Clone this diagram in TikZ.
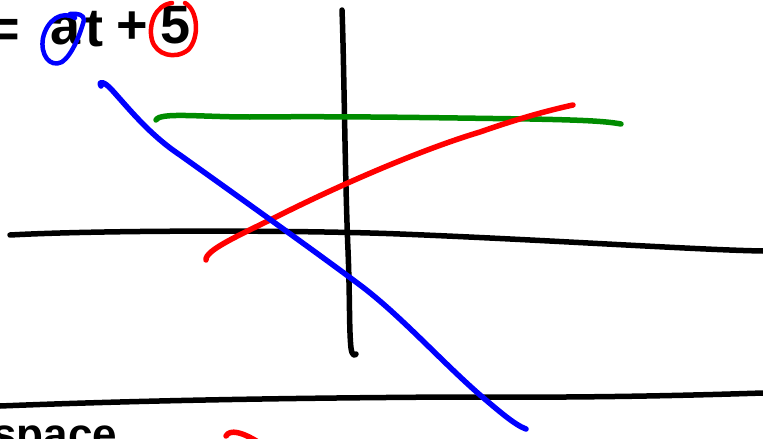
\documentclass[tikz,border=0pt]{standalone}
\usepackage{fontspec}
\setmainfont{Liberation Sans}
\definecolor{penblue}{RGB}{0,0,255}
\definecolor{penred}{RGB}{255,0,0}
\definecolor{pengreen}{RGB}{0,140,0}
\begin{document}
\begin{tikzpicture}[x=1pt,y=-1pt,
  pen/.style={line width=5.5pt,line cap=round,line join=round},
  ink/.style={pen,black},
  hand/.style={font=\fontsize{54}{54}\selectfont\bfseries,inner sep=0pt,anchor=base}]
\useasboundingbox (0,0) rectangle (763,439);
\clip (0,0) rectangle (763,439);
% equation
\node[hand] (eq) at (4,47) {=};
\node[hand] (a) at (66,44) {a};
\node[hand] (t) at (94,46) {t};
\node[hand] (plus) at (132,43) {+};
\node[hand] (five) at (176,43) {5};
\draw[pen,penblue,line width=4.5pt] (75,18) .. controls (62,10) and (47,20) .. (43,38)
  .. controls (40,55) and (50,68) .. (62,62) .. controls (72,55) and (80,35) .. (84,20)
  .. controls (84,15) and (78,13) .. (70,14);
\draw[pen,penred,line width=4.5pt] (172,3) .. controls (155,5) and (148,25) .. (152,40)
  .. controls (156,55) and (175,60) .. (188,50) .. controls (200,38) and (198,10) .. (185,3);
% bottom text fragment
\node[hand,anchor=base west,font=\fontsize{44}{44}\selectfont\bfseries] (bottomtext) at (-8,449) {space};
% black vertical
\draw[ink] (342,10) .. controls (344,60) and (345,180) .. (348,250)
  .. controls (350,300) and (349,330) .. (351,348) .. controls (352,356) and (355,356) .. (356,354);
% middle horizontal
\draw[ink] (10,235) .. controls (100,230) and (300,230) .. (400,234)
  .. controls (550,240) and (700,250) .. (763,251);
% bottom horizontal
\draw[ink] (0,406) .. controls (150,400) and (300,398) .. (450,397)
  .. controls (600,398) and (700,395) .. (763,393);
% green
\draw[pen,pengreen] (156,120) .. controls (160,112) and (200,117) .. (250,117)
  .. controls (350,116) and (450,118) .. (530,119) .. controls (580,120) and (605,121) .. (621,124);
% red
\draw[pen,penred] (206,260) .. controls (205,250) and (240,235) .. (280,215)
  .. controls (340,185) and (420,150) .. (480,132) .. controls (520,118) and (550,110) .. (573,105);
% blue
\draw[pen,penblue] (101,86) .. controls (98,80) and (105,82) .. (112,90)
  .. controls (130,110) and (150,135) .. (180,155) .. controls (250,205) and (320,255) .. (360,285)
  .. controls (400,315) and (440,360) .. (480,395) .. controls (500,412) and (515,425) .. (526,429);
% red hook bottom
\draw[pen,penred] (226,436) .. controls (230,429) and (242,432) .. (258,442);
\end{tikzpicture}
\end{document}
